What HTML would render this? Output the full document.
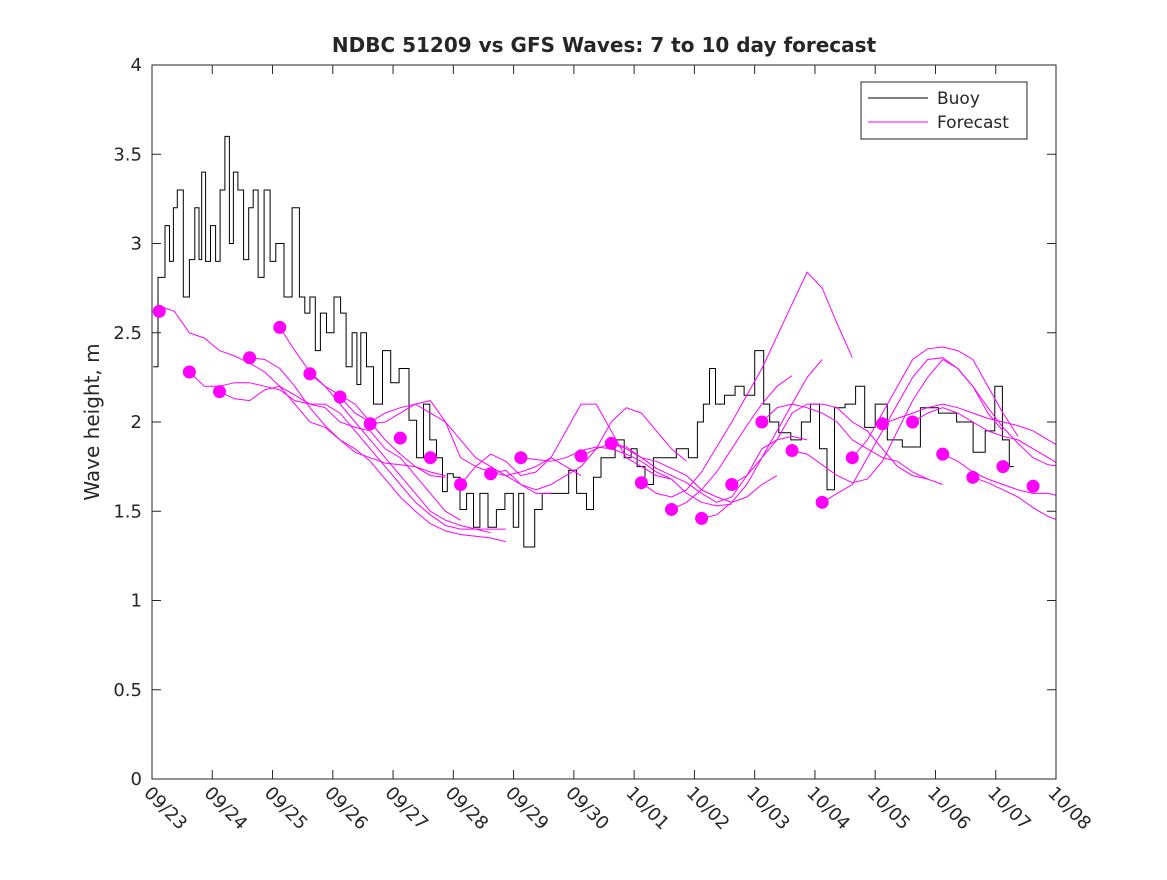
<!DOCTYPE html>
<html><head><meta charset="utf-8"><style>
body{margin:0;background:#fff;}
svg text{font-family:"DejaVu Sans","Liberation Sans",sans-serif;fill:#262626;}
</style></head><body>
<svg id="chart" width="1167" height="875" xmlns="http://www.w3.org/2000/svg">
<rect x="0" y="0" width="1167" height="875" fill="#fff"/>
<text x="604" y="52" text-anchor="middle" font-size="20" font-weight="bold" fill="#000">NDBC 51209 vs GFS Waves: 7 to 10 day forecast</text>
<text transform="translate(99,422) rotate(-90)" text-anchor="middle" font-size="20">Wave height, m</text>
<g id="plot"></g>
</svg>
<script>
const dateLabels=["09/23","09/24","09/25","09/26","09/27","09/28","09/29","09/30","10/01","10/02","10/03","10/04","10/05","10/06","10/07","10/08"];
const yTicks=[0,0.5,1,1.5,2,2.5,3,3.5,4];
const buoyDays=[0.02,0.18,0.25,0.33,0.38,0.46,0.58,0.66,0.76,0.8,0.85,0.93,1.01,1.1,1.16,1.26,1.31,1.39,1.46,1.58,1.63,1.73,1.79,1.93,1.99,2.12,2.26,2.39,2.5,2.57,2.67,2.75,2.84,2.95,3.09,3.17,3.27,3.37,3.43,3.5,3.62,3.73,3.92,4.0,4.2,4.33,4.45,4.56,4.66,4.78,4.86,4.94,5.06,5.16,5.28,5.39,5.49,5.66,5.77,5.94,6.05,6.12,6.22,6.3,6.4,6.55,6.89,6.94,7.15,7.27,7.38,7.52,7.6,7.77,7.9,8.0,8.1,8.26,8.38,8.6,8.8,9.0,9.1,9.2,9.3,9.4,9.6,9.75,9.9,10.1,10.2,10.3,10.5,10.7,10.85,11.0,11.15,11.25,11.4,11.6,11.75,11.9,12.1,12.3,12.6,12.9,13.2,13.5,13.75,13.9,14.07,14.15,14.3];
const buoyVals=[2.31,2.81,3.1,2.9,3.2,3.3,2.7,2.91,3.2,2.91,3.4,2.9,3.1,2.9,3.3,3.6,3.0,3.4,3.3,2.91,3.2,3.3,2.81,3.3,2.9,3.0,2.7,3.2,2.7,2.61,2.7,2.4,2.61,2.5,2.7,2.61,2.31,2.5,2.21,2.5,2.31,2.1,2.4,2.22,2.3,2.01,1.8,2.1,1.9,1.8,1.61,1.71,1.69,1.51,1.6,1.41,1.6,1.41,1.51,1.6,1.41,1.6,1.3,1.3,1.51,1.6,1.6,1.73,1.6,1.51,1.69,1.8,1.8,1.9,1.8,1.85,1.75,1.65,1.8,1.8,1.85,1.8,2.0,2.1,2.3,2.1,2.15,2.2,2.15,2.4,2.1,2.0,1.94,1.9,2.0,2.1,1.85,1.62,2.08,2.1,2.2,1.97,2.1,1.9,1.86,2.08,2.05,2.0,1.83,1.95,2.2,1.9,1.75];
const dotVals=[2.62,2.28,2.17,2.36,2.53,2.27,2.14,1.99,1.91,1.80,1.65,1.71,1.80,null,1.81,1.88,1.66,1.51,1.46,1.65,2.00,1.84,1.55,1.80,1.99,2.00,1.82,1.69,1.75,1.64];
const fcStarts=[0.12,0.62,1.12,1.62,2.12,2.62,3.12,3.62,5.12,5.62,6.12,7.12,7.62,8.12,8.62,9.12,9.62,10.12,10.62,11.12,11.62,12.12,12.62,13.12,13.62];
const fcVals=[
[2.65,2.62,2.5,2.47,2.4,2.37,2.33,2.28,2.2,2.15,2.1,2.08,2.0,1.97,1.95,1.85,1.8,1.7,1.6,1.5,1.45],
[2.28,2.2,2.2,2.22,2.22,2.2,2.18,2.12,2.1,2.1,2.05,1.95,1.85,1.75,1.65,1.55,1.48,1.42,1.4,1.4,1.38],
[2.17,2.13,2.12,2.18,2.2,2.1,2.0,1.97,1.9,1.85,1.78,1.68,1.58,1.5,1.43,1.39,1.37,1.36,1.35,1.33],
[2.36,2.35,2.3,2.2,2.08,1.98,1.9,1.83,1.8,1.77,1.76,1.75,1.72,1.7],
[2.53,2.4,2.28,2.2,2.15,2.1,2.0,1.9,1.82,1.75,1.7,1.69],
[2.27,2.2,2.1,2.0,1.9,1.8,1.7,1.6,1.5,1.45,1.42,1.4,1.4,1.4],
[2.14,2.05,2.0,2.05,2.08,2.1,2.05,2.0,1.9,1.8,1.75,1.7,1.65,1.6,1.6],
[1.99,2.0,2.05,2.1,2.12,2.0,1.8,1.75,1.72,1.7,1.72,1.75,1.8,1.75,1.7],
[1.65,1.75,1.82,1.78,1.7,1.72,1.8,1.95,2.1,2.1,1.95,1.8,1.75,1.7,1.68],
[1.71,1.73,1.65,1.62,1.65,1.7,1.75,1.85,2.0,2.08,2.05,1.95,1.85,1.78],
[1.80,1.79,1.78,1.8,1.84,1.86,1.85,1.82,1.78,1.72,1.68,1.6,1.55,1.53,1.54],
[1.81,1.85,1.88,1.85,1.8,1.78,1.74,1.7,1.62,1.58,1.55,1.58,1.65,1.7],
[1.88,1.86,1.8,1.74,1.7,1.66,1.6,1.55,1.58,1.7,1.85,1.9,1.92,1.9],
[1.66,1.6,1.58,1.62,1.72,1.86,2.0,2.15,2.3,2.48,2.66,2.84,2.75,2.55,2.36],
[1.51,1.55,1.62,1.72,1.85,1.98,2.1,2.2,2.26],
[1.46,1.48,1.55,1.65,1.8,1.95,2.1,2.25,2.35],
[1.65,1.7,1.8,1.9,2.05,2.1,2.1,2.08,2.0,1.95,1.85,1.75,1.7,1.68],
[2.0,2.08,2.1,2.08,2.05,2.0,1.9,1.85,1.8,1.78,1.72,1.68,1.65],
[1.84,1.82,1.76,1.7,1.66,1.68,1.78,1.95,2.12,2.25,2.35,2.3,2.2,2.05,1.95],
[1.55,1.6,1.65,1.8,1.95,2.1,2.25,2.35,2.36,2.3,2.2,2.08,1.97,1.88,1.8,1.76,1.75],
[1.80,1.9,2.05,2.2,2.35,2.41,2.42,2.4,2.35,2.2,2.05,1.92],
[1.99,2.02,2.05,2.08,2.1,2.08,2.05,2.02,2.0,1.98,1.95,1.9,1.85,1.8],
[2.0,2.05,2.08,2.05,2.0,1.95,1.92,1.9,1.85,1.8,1.75,1.72,1.72],
[1.82,1.78,1.72,1.68,1.65,1.62,1.6,1.6,1.58],
[1.69,1.66,1.62,1.58,1.52,1.47,1.44,1.45,1.5]];
const X0=152,X1=1056,Y0=779,Y1=65;
const xS=d=>X0+d*(X1-X0)/15;
const yS=v=>Y0-v*(Y0-Y1)/4;
const NS="http://www.w3.org/2000/svg";
const g=document.getElementById('plot');
function mk(t,a){const e=document.createElementNS(NS,t);for(const k in a)e.setAttribute(k,a[k]);g.appendChild(e);return e;}
const defs=mk('defs',{});const cp=document.createElementNS(NS,'clipPath');cp.setAttribute('id','cp');
const cr=document.createElementNS(NS,'rect');cr.setAttribute('x',X0);cr.setAttribute('y',Y1);cr.setAttribute('width',X1-X0);cr.setAttribute('height',Y0-Y1);cp.appendChild(cr);defs.appendChild(cp);
let p='M'+xS(buoyDays[0]).toFixed(1)+' '+yS(buoyVals[0]).toFixed(1);
for(let i=1;i<buoyDays.length;i++){
  const xa=xS(buoyDays[i-1]),xb=xS(buoyDays[i]),xm=(xa+xb)/2;
  p+='H'+xm.toFixed(1)+'V'+yS(buoyVals[i]).toFixed(1)+'H'+xb.toFixed(1);
}
const bl=mk('path',{d:p,fill:'none',stroke:'#000','stroke-width':1,'clip-path':'url(#cp)'});


fcVals.forEach((arr,j)=>{
  const s=fcStarts[j];
  const d=arr.map((v,i)=>(i?'L':'M')+xS(s+i*0.25).toFixed(1)+' '+yS(v).toFixed(1)).join('');
  const e=mk('path',{d:d,fill:'none',stroke:'#ff00ff','stroke-width':1,'clip-path':'url(#cp)'});
  
  
});
dotVals.forEach((v,k)=>{
  if(v===null)return;
  const c=mk('circle',{cx:xS(0.12+0.5*k),cy:yS(v),r:6.5,fill:'#ff00ff'});
  
  
});
const bx=mk('rect',{x:X0,y:Y1,width:X1-X0,height:Y0-Y1,fill:'none',stroke:'#262626','stroke-width':1});


yTicks.forEach(v=>{
  const y=yS(v);
  mk('line',{x1:X0,y1:y,x2:X0+9,y2:y,stroke:'#262626'});
  mk('line',{x1:X1,y1:y,x2:X1-9,y2:y,stroke:'#262626'});
  const t=mk('text',{x:X0-10,y:y+6,'text-anchor':'end','font-size':18});
  t.textContent=String(v);
  
  
});
dateLabels.forEach((l,i)=>{
  const x=xS(i);
  mk('line',{x1:x,y1:Y0,x2:x,y2:Y0-9,stroke:'#262626'});
  mk('line',{x1:x,y1:Y1,x2:x,y2:Y1+9,stroke:'#262626'});
  const t=mk('text',{transform:`translate(${x-9},${Y0+15}) rotate(45)`,'font-size':18});
  t.textContent=l;
  
  
});
const lr=mk('rect',{x:861,y:82,width:166,height:57,fill:'#fff',stroke:'#262626'});


mk('line',{x1:868,y1:98,x2:928,y2:98,stroke:'#000'});
mk('line',{x1:868,y1:122,x2:928,y2:122,stroke:'#ff00ff'});
const t1=mk('text',{x:937,y:104,'font-size':17});t1.textContent='Buoy';


const t2=mk('text',{x:937,y:128,'font-size':17});t2.textContent='Forecast';


</script>
</body></html>
